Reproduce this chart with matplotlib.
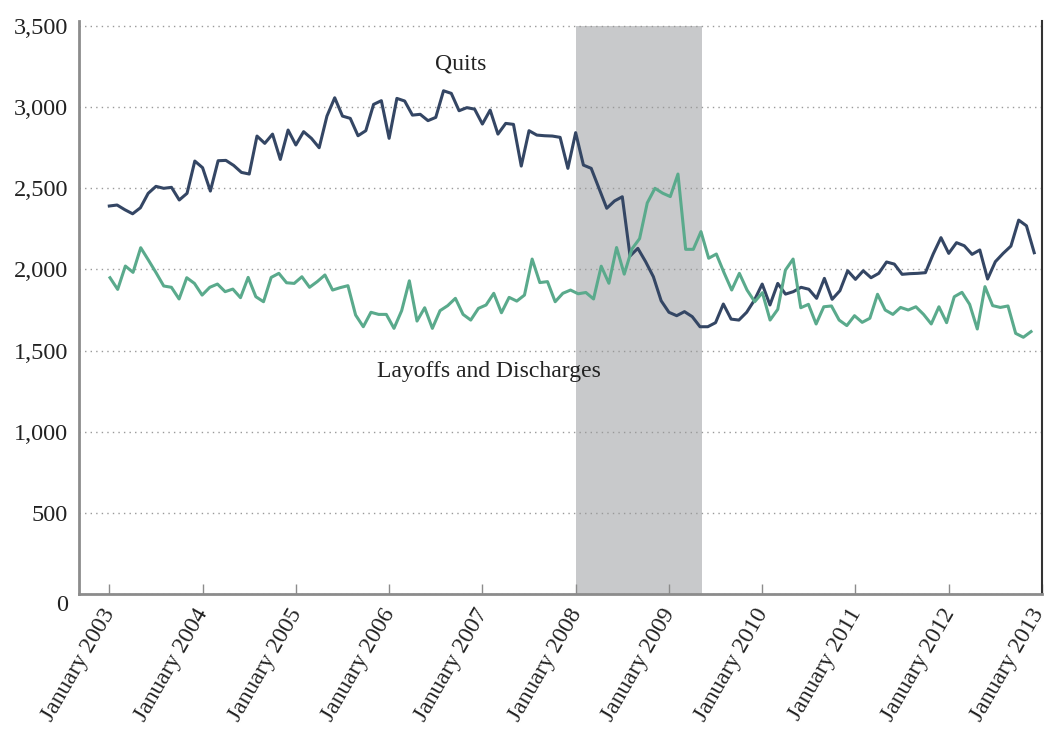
import numpy as np
import matplotlib
matplotlib.use('Agg')
import matplotlib.pyplot as plt
from matplotlib.ticker import FuncFormatter
from matplotlib.transforms import ScaledTranslation

# Quits and layoffs/discharges, thousands, monthly from January 2003
quits = [2391, 2397, 2368, 2343, 2380, 2469, 2512, 2500, 2506, 2428, 2469, 2668,
         2627, 2483, 2670, 2672, 2641, 2598, 2588, 2822, 2777, 2834, 2678, 2859,
         2767, 2849, 2808, 2750, 2945, 3058, 2945, 2931, 2824, 2855, 3017, 3040,
         2808, 3054, 3038, 2951, 2956, 2917, 2937, 3101, 3085, 2978, 2997, 2988,
         2896, 2982, 2834, 2900, 2894, 2637, 2855, 2828, 2824, 2822, 2814, 2623,
         2843, 2643, 2623, 2500, 2377, 2422, 2448, 2083, 2130, 2048, 1955, 1807,
         1736, 1715, 1740, 1709, 1647, 1647, 1672, 1787, 1694, 1688, 1736, 1811,
         1910, 1781, 1914, 1848, 1863, 1890, 1878, 1822, 1945, 1816, 1869, 1992,
         1939, 1992, 1949, 1976, 2046, 2033, 1970, 1974, 1976, 1980, 2095, 2196,
         2099, 2165, 2146, 2093, 2120, 1941, 2048, 2099, 2144, 2304, 2269, 2103]

layoffs = [1949, 1877, 2021, 1982, 2134, 2058, 1980, 1898, 1890, 1818, 1949, 1914,
           1842, 1890, 1910, 1863, 1879, 1826, 1951, 1832, 1801, 1951, 1976, 1918,
           1914, 1955, 1890, 1925, 1966, 1873, 1888, 1900, 1719, 1647, 1736, 1723,
           1723, 1637, 1746, 1930, 1682, 1764, 1637, 1746, 1777, 1822, 1723, 1688,
           1760, 1781, 1853, 1733, 1828, 1805, 1842, 2064, 1919, 1925, 1801, 1853,
           1873, 1850, 1858, 1818, 2020, 1915, 2135, 1971, 2126, 2190, 2410, 2500,
           2470, 2449, 2588, 2124, 2124, 2233, 2069, 2095, 1980, 1873, 1976, 1873,
           1801, 1857, 1688, 1754, 1996, 2064, 1764, 1785, 1664, 1770, 1775, 1688,
           1654, 1715, 1674, 1699, 1847, 1750, 1723, 1766, 1750, 1770, 1723, 1664,
           1770, 1672, 1832, 1859, 1785, 1633, 1894, 1777, 1766, 1775, 1606, 1582,
           1617]

tick_years = list(range(2003, 2014))
tick_labels = ['January %d' % y for y in tick_years]
y_ticks = list(range(0, 3501, 500))
recession = (60, 76.3)  # months after January 2003

plt.rcParams['font.family'] = ['Liberation Serif', 'DejaVu Serif']
text_color = '#222222'
fs = 17.5

fig = plt.figure(figsize=(10.46, 7.32), dpi=100)
ax = fig.add_axes([79 / 1046, 138 / 732, 963 / 1046, 573 / 732])

ax.fill_between(recession, 0, 3500, color='#c8c9cb', lw=0, zorder=1)
ax.plot(np.arange(len(quits)), quits, color='#344664', lw=2.2, zorder=4)

ax.set_xlim(-3.9, 120)
ax.set_ylim(0, 3531)

# in the source chart the layoffs series runs on its own (slightly tighter)
# horizontal scale, so it gets a hidden secondary x axis
ax2 = ax.twiny()
ax2.plot(np.arange(len(layoffs)), layoffs, color='#5aaa8c', lw=2.2)
ax2.set_xlim(-4.04, 121.43)
ax2.set_xticks([])
for s in ax2.spines.values():
    s.set_visible(False)

ax.set_yticks(y_ticks)
ax.yaxis.set_major_formatter(FuncFormatter(lambda v, p: '' if v == 0 else '{:,.0f}'.format(v)))
ax.tick_params(axis='y', length=0, pad=8, labelsize=fs, labelcolor=text_color)
ax.grid(axis='y', color='#999999', lw=1, ls=(0, (1, 3)), zorder=2)
# the zero label sits a little below the axis line
ax.annotate('0', xy=(0, 0), xycoords=('axes fraction', 'data'), xytext=(-8, -8),
            textcoords='offset points', ha='right', va='center', fontsize=fs, color=text_color)

ax.set_xticks([12 * i for i in range(len(tick_years))])
ax.set_xticklabels(tick_labels, rotation=60, ha='right', rotation_mode='anchor')
ax.tick_params(axis='x', direction='in', length=7, width=1, color='#8c8c8c',
               pad=9, labelsize=17, labelcolor=text_color)
# nudge the slanted labels a little left and up; the last one a bit more
# so it stays inside the figure
xlabels = ax.get_xticklabels()
for i, lbl in enumerate(xlabels):
    dx = -12 if i == len(xlabels) - 1 else -8
    lbl.set_transform(lbl.get_transform() +
                      ScaledTranslation(dx / 100, 2 / 100, fig.dpi_scale_trans))

for s in ['left', 'bottom']:
    ax.spines[s].set_color('#8c8c8c')
    ax.spines[s].set_linewidth(2)
ax.spines['top'].set_visible(False)
ax.spines['right'].set_color('#333333')
ax.spines['right'].set_linewidth(1.5)

ax.text(45.2, 3266, 'Quits', ha='center', va='center', fontsize=17, color=text_color)
ax.text(48.8, 1374, 'Layoffs and Discharges', ha='center', va='center', fontsize=17,
        color=text_color)

fig.savefig('out.png', dpi=100)
